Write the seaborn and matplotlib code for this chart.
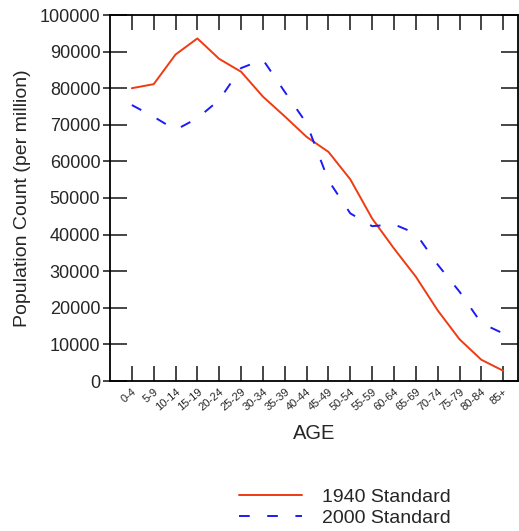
import numpy as np
import pandas as pd
import matplotlib
matplotlib.use("Agg")
import matplotlib.pyplot as plt
import seaborn as sns

ages = ["0-4", "5-9", "10-14", "15-19", "20-24", "25-29", "30-34", "35-39", "40-44",
        "45-49", "50-54", "55-59", "60-64", "65-69", "70-74", "75-79", "80-84", "85+"]
std1940 = [80000, 81100, 89200, 93600, 88000, 84500, 77700, 72300, 66700,
           62600, 55100, 44400, 36200, 28500, 19300, 11400, 5800, 2800]
std2000 = [75400, 72200, 68600, 71800, 76800, 85500, 87800, 79000, 70400,
           54800, 45800, 42300, 42800, 40300, 31800, 24400, 15800, 13000]
series_names = ["1940 Standard", "2000 Standard"]

sns.set_style("ticks")
plt.rcParams["font.family"] = ["Liberation Sans", "DejaVu Sans"]

df = pd.DataFrame({
    "age": list(range(len(ages))) * 2,
    "value": std1940 + std2000,
    "series": [series_names[0]] * len(ages) + [series_names[1]] * len(ages),
})

fig = plt.figure(figsize=(5.19, 5.31), dpi=100)
ax = fig.add_axes([110 / 519, 1 - 381 / 531, 408.5 / 519, (381 - 15) / 531])

sns.lineplot(data=df, x="age", y="value", hue="series", style="series",
             palette={series_names[0]: "#f03a12", series_names[1]: "#1c1cf5"},
             dashes={series_names[0]: "", series_names[1]: (5.5, 9)},
             linewidth=1.4, ax=ax, legend=True)

ax.set_xlim(-1, 17.7)
ax.set_ylim(0, 100000)
yt = list(range(0, 100001, 10000))
ax.set_yticks(yt)
ax.set_yticklabels([str(v) for v in yt], fontsize=13)
ax.set_yticks(yt, minor=True)
ax.yaxis.remove_overlapping_locs = False
ax.set_xticks(range(len(ages)))
ax.set_xticklabels(ages, rotation=40, fontsize=8, ha="right", rotation_mode="anchor")
ax.set_xlabel("AGE", fontsize=14.5, labelpad=8)
ax.set_ylabel("Population Count (per million)", fontsize=14, labelpad=6)

for s in ax.spines.values():
    s.set_visible(True)
    s.set_linewidth(1.3)
    s.set_color("black")
ax.tick_params(axis="x", direction="in", length=11, width=1.2, top=True, bottom=True, pad=4)
ax.tick_params(axis="y", which="major", direction="in", length=12, width=1.2,
               left=True, right=True, pad=7)
ax.tick_params(axis="y", which="minor", direction="out", length=5, width=1.2,
               left=True, right=False, labelleft=False)

ax.grid(False)

leg = ax.get_legend()
handles, labels = ax.get_legend_handles_labels()
leg.remove()
fig.legend(handles, labels, loc="upper left", bbox_to_anchor=(239 / 519, 1 - 488 / 531),
           frameon=False, fontsize=14, handlelength=3.25, handletextpad=1.0,
           labelspacing=0.2, borderpad=0, borderaxespad=0)

fig.savefig("out.png", dpi=100)
